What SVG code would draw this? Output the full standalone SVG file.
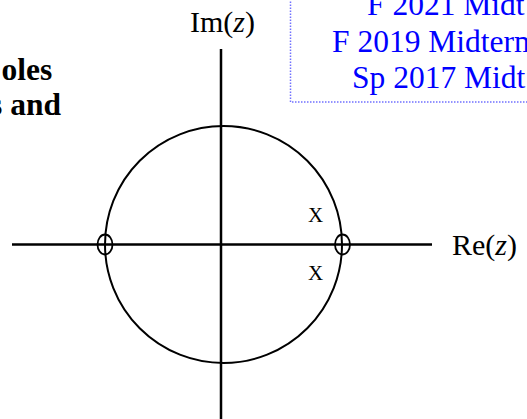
<svg xmlns="http://www.w3.org/2000/svg" width="527" height="419" viewBox="0 0 527 419">
<style>
.t{font-family:"Liberation Serif","Times New Roman",serif;font-size:30px;fill:#000}
.b{font-weight:bold;font-size:31.5px}
.blue{fill:#0000ff;font-size:31.5px}
.ax{stroke:#000;stroke-width:2.5;fill:none}
.ln{stroke:#000;stroke-width:2;fill:none}
.z{stroke:#000;stroke-width:1.8;fill:none}
.box{stroke:#7070ff;stroke-width:1.5;stroke-dasharray:1.5 1.5;fill:none}
.x{font-family:"Liberation Serif","Times New Roman",serif;font-size:21px;fill:#000}
</style>
<rect width="527" height="419" fill="#fff"/>
<g id="note">
<rect class="box" x="290.5" y="-10" width="250" height="112"/>
<text class="t blue" x="367" y="15">F 2021 Midt</text>
<text class="t blue" x="332" y="52">F 2019 Midterm</text>
<text class="t blue" x="352" y="88">Sp 2017 Midt</text>
</g>
<g id="question">
<text class="t b" x="1.5" y="80">oles</text>
<text class="t b" x="-10" y="115">s and</text>
</g>
<g id="connectors">
<line class="ax" x1="12" y1="244.5" x2="432" y2="244.5"/>
<line class="ax" x1="221" y1="49" x2="221" y2="419"/>
</g>
<g id="unit-circle">
<circle class="ln" cx="223.5" cy="244.5" r="118.5"/>
</g>
<g id="zero-left">
<ellipse class="z" cx="105" cy="244.5" rx="7.5" ry="10"/>
</g>
<g id="zero-right">
<ellipse class="z" cx="342.5" cy="244.5" rx="7.5" ry="10"/>
</g>
<g id="pole-upper">
<text class="x" x="315.5" y="222" text-anchor="middle">X</text>
</g>
<g id="pole-lower">
<text class="x" x="315.5" y="280" text-anchor="middle">X</text>
</g>
<g id="label-im">
<text class="t" x="190" y="32">Im(<tspan font-style="italic">z</tspan>)</text>
</g>
<g id="label-re">
<text class="t" x="452" y="255" font-size="31">Re(<tspan font-style="italic">z</tspan>)</text>
</g>
</svg>
